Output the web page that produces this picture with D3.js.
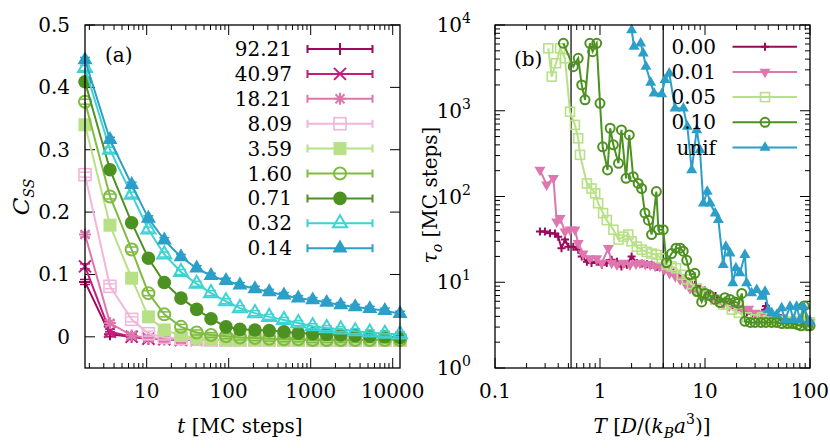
<!DOCTYPE html>
<html>
<head>
<meta charset="utf-8">
<script src="https://cdn.jsdelivr.net/npm/d3@7/dist/d3.min.js"></script>
<style>
  body { margin: 0; background: #fff; }
  svg { display: block; }
</style>
</head>
<body>
<div id="chart"></div>
<script>
// ---------- panel (a): C_SS vs t ----------
const tSteps = [1.77, 3.57, 6.56, 10.5, 16.4, 26.2, 40.7, 60.9, 92.7, 137, 209, 312, 472, 706, 1057, 1567, 2324, 3490, 5250, 8020, 12270];
const cssLabels = ["92.21", "40.97", "18.21", "8.09", "3.59", "1.60", "0.71", "0.32", "0.14"];
const css9221 = [0.088, 0.004, 0.000, -0.003, -0.004, -0.005, -0.005, -0.005, -0.005, -0.005, -0.005, -0.005, -0.005, -0.005, -0.005, -0.005, -0.005, -0.005, -0.005, -0.005, -0.005];
const css4097 = [0.113, 0.008, 0.000, -0.003, -0.004, -0.005, -0.005, -0.005, -0.005, -0.005, -0.005, -0.005, -0.005, -0.005, -0.005, -0.005, -0.005, -0.005, -0.005, -0.005, -0.005];
const css1821 = [0.164, 0.022, 0.002, -0.002, -0.004, -0.005, -0.005, -0.005, -0.005, -0.005, -0.005, -0.005, -0.005, -0.005, -0.005, -0.005, -0.005, -0.005, -0.005, -0.005, -0.005];
const css809 = [0.260, 0.081, 0.028, 0.005, -0.001, -0.003, -0.004, -0.005, -0.005, -0.005, -0.005, -0.005, -0.005, -0.005, -0.005, -0.005, -0.005, -0.005, -0.005, -0.005, -0.005];
const css359 = [0.340, 0.179, 0.094, 0.032, 0.011, 0.002, -0.002, -0.004, -0.005, -0.005, -0.005, -0.005, -0.005, -0.005, -0.005, -0.005, -0.005, -0.005, -0.005, -0.005, -0.005];
const css160 = [0.377, 0.225, 0.140, 0.070, 0.036, 0.016, 0.007, 0.003, 0.001, -0.001, -0.002, -0.003, -0.004, -0.004, -0.005, -0.005, -0.005, -0.005, -0.005, -0.005, -0.005];
const css071 = [0.409, 0.268, 0.183, 0.126, 0.087, 0.062, 0.044, 0.029, 0.016, 0.012, 0.011, 0.010, 0.008, 0.006, 0.005, 0.004, 0.003, 0.002, 0.001, 0.000, -0.001];
const css032 = [0.431, 0.300, 0.228, 0.172, 0.132, 0.104, 0.085, 0.070, 0.057, 0.046, 0.038, 0.032, 0.027, 0.022, 0.017, 0.014, 0.012, 0.009, 0.007, 0.005, 0.004];
const css014 = [0.444, 0.316, 0.244, 0.190, 0.155, 0.128, 0.110, 0.098, 0.090, 0.083, 0.077, 0.072, 0.067, 0.062, 0.059, 0.055, 0.051, 0.048, 0.045, 0.042, 0.037];
const cssErr = 0.004;
const xTicksA = [10, 100, 1000, 10000];
const yTicksA = [0, 0.1, 0.2, 0.3, 0.4, 0.5];
const yTickLabelsA = ["0", "0.1", "0.2", "0.3", "0.4", "0.5"];

// ---------- panel (b): tau_o vs T ----------
const tauLabels = ["0.00", "0.01", "0.05", "0.10", "unif"];
const T000 = [0.268, 0.299, 0.334, 0.373, 0.40, 0.43, 0.464, 0.50, 0.557, 0.62, 0.67, 0.75, 0.83, 0.93, 1.04, 1.16, 1.29, 1.45, 1.6, 1.8, 2.0, 2.24, 2.5, 2.8, 3.1, 3.5, 4.0, 4.5, 5.0, 5.6, 6.3, 7.0, 8.0, 9.0, 10, 11.2, 12.6, 14, 16, 18, 20, 22.4, 25, 28, 32, 35, 38, 42, 47, 53, 60, 67, 75, 84, 94, 100];
const tau000 = [39, 39, 37.2, 37, 34, 25, 31.5, 26, 26, 24, 20, 17.3, 16.8, 17.3, 16.0, 16.8, 18.3, 17.3, 15.3, 16.0, 20, 16.8, 16.5, 16.2, 16.0, 15.2, 14.5, 13.8, 13.0, 12.0, 11.0, 10.2, 9.3, 8.6, 8.0, 7.4, 6.9, 6.3, 5.8, 5.4, 5.0, 4.7, 4.5, 4.3, 4.2, 4.4, 5.3, 4.0, 3.9, 3.8, 3.7, 3.6, 3.6, 3.5, 3.5, 3.4];
const T001 = [0.268, 0.31, 0.36, 0.387, 0.417, 0.464, 0.518, 0.577, 0.62, 0.69, 0.80, 0.93, 1.04, 1.2, 1.29, 1.45, 1.67, 1.93, 2.2, 2.4, 2.7, 3.0, 3.35, 3.7, 4.1, 4.6, 5.2, 5.8, 6.5, 7.2, 8.0, 9.0, 10, 11.5, 13, 15, 17, 20, 23, 26, 30, 34, 38, 43, 50, 60, 70, 80, 90, 100];
const tau001 = [204, 137, 164, 51, 56, 39, 41, 41, 28.6, 21.6, 19.0, 19.0, 16.8, 25, 16.8, 16, 16.8, 16, 16.5, 16.8, 16.2, 16, 15.5, 15.3, 14.0, 12.8, 11.8, 10.8, 9.6, 8.5, 8.0, 7.3, 6.8, 6.4, 6.0, 5.6, 5.3, 5.0, 4.7, 4.9, 4.4, 4.2, 4.3, 4.0, 3.8, 3.6, 3.6, 3.5, 3.5, 3.4];
const T005 = [0.322, 0.347, 0.381, 0.417, 0.464, 0.518, 0.577, 0.62, 0.645, 0.75, 0.83, 0.9, 0.96, 1.07, 1.16, 1.34, 1.5, 1.67, 1.86, 2.0, 2.24, 2.5, 2.78, 3.1, 3.45, 3.86, 4.3, 4.8, 5.3, 6.0, 6.7, 7.5, 8.4, 9.4, 10.5, 12.5, 15, 18, 21, 25, 30, 35, 40, 50, 60, 70, 80, 90, 100];
const tau005 = [5350, 2500, 3580, 5350, 4090, 975, 684, 477, 306, 142, 124, 109, 83.5, 64, 53, 41, 31.5, 34, 36, 30, 26, 24, 22.6, 21.6, 20.9, 19.0, 16, 15.3, 14.6, 12.2, 10.8, 9.5, 8.4, 7.6, 7.0, 6.3, 5.5, 4.8, 4.4, 3.9, 3.7, 3.9, 3.6, 3.5, 3.5, 3.5, 3.5, 3.5, 3.4];
const T010 = [0.448, 0.557, 0.62, 0.67, 0.72, 0.80, 0.85, 0.93, 1.0, 1.06, 1.18, 1.25, 1.34, 1.5, 1.6, 1.77, 1.9, 2.07, 2.31, 2.49, 2.68, 2.89, 3.1, 3.44, 3.6, 4.0, 4.3, 4.8, 5.3, 5.8, 6.2, 6.7, 7.2, 8.0, 8.4, 9.3, 10, 11.1, 12.5, 13.9, 15.5, 17.3, 19.3, 20.8, 22.4, 24, 27, 30, 34, 38, 43, 48, 54, 61, 68, 76, 82, 88, 95, 100];
const tau010 = [6120, 3270, 4090, 2000, 1340, 6120, 4890, 6120, 1220, 380, 204, 625, 400, 244, 597, 163, 523, 170, 142, 124, 64, 53, 36, 114, 41, 41, 17, 21.6, 25, 25, 23, 18, 12.2, 12.7, 7.8, 5.9, 7.4, 7.0, 6.3, 5.8, 6.6, 6.3, 5.9, 5.7, 7.4, 3.5, 3.4, 3.4, 3.4, 3.4, 3.4, 3.4, 3.3, 3.3, 3.3, 3.2, 3.1, 5.3, 3.1, 3.1];
const Tunif = [2.0, 2.11, 2.44, 2.58, 2.74, 3.04, 3.27, 3.87, 4.16, 4.57, 5.18, 6.22, 6.79, 7.47, 8.34, 8.96, 9.64, 10.5, 11.2, 12.5, 13.4, 14.9, 15.8, 17.3, 18.4, 19.7, 21.5, 24.0, 24.9, 27.8, 31.1, 34.7, 37.3, 40.1, 43.2, 48.2, 53.7, 57.8, 64.5, 69.4, 74.6, 80.4, 86.4, 100];
const tauUnif = [8740, 5590, 6120, 4680, 3270, 2130, 1600, 1570, 2290, 2730, 1070, 1070, 653, 204, 597, 349, 83.5, 114, 83.5, 63.8, 53.4, 16.0, 26.1, 21.8, 9.77, 14.6, 12.8, 20.9, 9.77, 7.46, 8.15, 6.82, 7.8, 4.77, 4.36, 4.17, 4.99, 3.65, 5.21, 3.65, 5.21, 3.65, 5.21, 3.48];
const vLinesB = [0.53, 4.0];
const xTicksB = [0.1, 1, 10, 100];
const xTickLabelsB = ["0.1", "1", "10", "100"];
const yTicksB = [1, 10, 100, 1000, 10000];

// ---------- styles ----------
const colA = ["#9c0a5c", "#c51b7d", "#de77ae", "#f1b6da", "#b8e186", "#7fbc41", "#4d9221", "#3dd3d3", "#2b9fc8"];
const mkA = ["plus", "cross", "star", "sqOpen", "sqFill", "circOpen", "circFill", "triOpen", "triFill"];
const colB = ["#9c0a5c", "#de77ae", "#b8e186", "#4d9221", "#2b9fc8"];
const mkB = ["plus", "triDown", "sqOpen", "circOpen", "triFill"];
const FONT = "DejaVu Serif";

const W = 830, H = 448;
const svg = d3.select("#chart").append("svg").attr("width", W).attr("height", H)
  .style("font-family", FONT);

const pA = { x0: 85, x1: 400, y0: 25, y1: 368 };
const pB = { x0: 495, x1: 810, y0: 25, y1: 368 };

const xA = d3.scaleLog().domain([1.77, 12270]).range([pA.x0, pA.x1]);
const yA = d3.scaleLinear().domain([-0.05, 0.5]).range([pA.y1, pA.y0]);
const xB = d3.scaleLog().domain([0.1, 100]).range([pB.x0, pB.x1]);
const yB = d3.scaleLog().domain([1, 1e4]).range([pB.y1, pB.y0]);

// marker drawing, s = half size
function marker(g, type, x, y, s, color) {
  const sw = 2;
  switch (type) {
    case "plus":
      g.append("path").attr("d", `M${x - s},${y}H${x + s}M${x},${y - s}V${y + s}`)
        .attr("stroke", color).attr("stroke-width", sw).attr("fill", "none");
      break;
    case "cross":
      g.append("path").attr("d", `M${x - s},${y - s}L${x + s},${y + s}M${x - s},${y + s}L${x + s},${y - s}`)
        .attr("stroke", color).attr("stroke-width", sw).attr("fill", "none");
      break;
    case "star":
      g.append("path").attr("d", `M${x - s},${y}H${x + s}M${x},${y - s}V${y + s}M${x - s * 0.75},${y - s * 0.75}L${x + s * 0.75},${y + s * 0.75}M${x - s * 0.75},${y + s * 0.75}L${x + s * 0.75},${y - s * 0.75}`)
        .attr("stroke", color).attr("stroke-width", sw).attr("fill", "none");
      break;
    case "sqOpen":
      g.append("rect").attr("x", x - s).attr("y", y - s).attr("width", 2 * s).attr("height", 2 * s)
        .attr("fill", "none").attr("stroke", color).attr("stroke-width", sw * 0.8);
      break;
    case "sqFill":
      g.append("rect").attr("x", x - s).attr("y", y - s).attr("width", 2 * s).attr("height", 2 * s)
        .attr("fill", color);
      break;
    case "circOpen":
      g.append("circle").attr("cx", x).attr("cy", y).attr("r", s)
        .attr("fill", "none").attr("stroke", color).attr("stroke-width", sw);
      break;
    case "circFill":
      g.append("circle").attr("cx", x).attr("cy", y).attr("r", s).attr("fill", color);
      break;
    case "triOpen":
      g.append("path").attr("d", `M${x},${y - 1.15 * s}L${x + s},${y + 0.58 * s}L${x - s},${y + 0.58 * s}Z`)
        .attr("fill", "none").attr("stroke", color).attr("stroke-width", sw);
      break;
    case "triFill":
      g.append("path").attr("d", `M${x},${y - 1.15 * s}L${x + s},${y + 0.58 * s}L${x - s},${y + 0.58 * s}Z`)
        .attr("fill", color);
      break;
    case "triDown":
      g.append("path").attr("d", `M${x},${y + 1.15 * s}L${x + s},${y - 0.58 * s}L${x - s},${y - 0.58 * s}Z`)
        .attr("fill", color);
      break;
  }
}

// frame ticks for a panel (inward, mirrored)
function frame(p, xs, ys, xMajor, yMajor, xLog, yLog) {
  const g = svg.append("g");
  const big = 10, small = 5;
  const tick = (x1, y1, x2, y2) => g.append("line").attr("x1", x1).attr("y1", y1).attr("x2", x2).attr("y2", y2)
    .attr("stroke", "#000").attr("stroke-width", 1);
  xMajor.forEach(v => { const x = xs(v); tick(x, p.y1, x, p.y1 - big); tick(x, p.y0, x, p.y0 + big); });
  yMajor.forEach(v => { const y = ys(v); tick(p.x0, y, p.x0 + big, y); tick(p.x1, y, p.x1 - big, y); });
  if (xLog) xs.ticks().filter(v => !xMajor.includes(v)).forEach(v => {
    const x = xs(v); tick(x, p.y1, x, p.y1 - small); tick(x, p.y0, x, p.y0 + small);
  });
  if (yLog) ys.ticks().filter(v => !yMajor.includes(v)).forEach(v => {
    const y = ys(v); tick(p.x0, y, p.x0 + small, y); tick(p.x1, y, p.x1 - small, y);
  });
  return g;
}

// ---------- panel (a) ----------
const seriesA = [css9221, css4097, css1821, css809, css359, css160, css071, css032, css014];
const mkSizeA = { plus: 6, cross: 6, star: 6, sqOpen: 6, sqFill: 6.5, circOpen: 6, circFill: 6.8, triOpen: 7, triFill: 7.5 };

frame(pA, xA, yA, xTicksA, yTicksA, true, false);

const gA = svg.append("g");
seriesA.forEach((vals, i) => {
  const pts = vals.map((v, j) => [tSteps[j], v]);
  gA.append("path").datum(pts)
    .attr("d", d3.line().x(d => xA(d[0])).y(d => yA(d[1])))
    .attr("fill", "none").attr("stroke", colA[i]).attr("stroke-width", 2);
  const ge = gA.append("g").attr("stroke", colA[i]).attr("stroke-width", 1.5);
  pts.forEach(d => {
    const x = xA(d[0]), yt = yA(d[1] + cssErr), yb = yA(d[1] - cssErr);
    ge.append("line").attr("x1", x - 5).attr("x2", x + 5).attr("y1", yt).attr("y2", yt);
    ge.append("line").attr("x1", x - 5).attr("x2", x + 5).attr("y1", yb).attr("y2", yb);
  });
  pts.forEach(d => marker(gA, mkA[i], xA(d[0]), yA(d[1]), mkSizeA[mkA[i]], colA[i]));
});

// tick labels (a)
const fs = 20;
xTicksA.forEach(v => svg.append("text").attr("x", xA(v)).attr("y", 398).attr("text-anchor", "middle")
  .attr("font-size", fs).text(d3.format("d")(v)));
yTicksA.forEach((v, i) => svg.append("text").attr("x", 70).attr("y", yA(v) + 7).attr("text-anchor", "end")
  .attr("font-size", fs).text(yTickLabelsA[i]));

svg.append("rect").attr("x", pA.x0).attr("y", pA.y0).attr("width", pA.x1 - pA.x0).attr("height", pA.y1 - pA.y0)
  .attr("fill", "none").attr("stroke", "#000").attr("stroke-width", 1.3);

// legend (a)
const legA = svg.append("g");
cssLabels.forEach((lab, i) => {
  const y = 49 + i * 24.9;
  legA.append("text").attr("x", 292).attr("y", y + 7).attr("text-anchor", "end").attr("font-size", fs).text(lab);
  legA.append("path").attr("d", `M307.5,${y}H372.5M307.5,${y - 4}V${y + 4}M372.5,${y - 4}V${y + 4}`)
    .attr("stroke", colA[i]).attr("stroke-width", 2).attr("fill", "none");
  marker(legA, mkA[i], 340, y, mkSizeA[mkA[i]], colA[i]);
});
svg.append("text").attr("x", 105).attr("y", 62).attr("font-size", fs).text("(a)");

// axis titles (a)
const tA = svg.append("text").attr("x", 240).attr("y", 433).attr("text-anchor", "middle").attr("font-size", fs);
tA.append("tspan").attr("font-style", "italic").text("t");
tA.append("tspan").text(" [MC steps]");
const cA = svg.append("text").attr("transform", "translate(29,197) rotate(-90)").attr("text-anchor", "middle").attr("font-size", 23);
cA.append("tspan").attr("font-style", "italic").text("C");
cA.append("tspan").attr("font-style", "italic").attr("font-size", 14).attr("dy", 5).text("SS");

// ---------- panel (b) ----------
frame(pB, xB, yB, xTicksB, yTicksB, true, true);

const gB = svg.append("g");
vLinesB.forEach(v => gB.append("line").attr("x1", xB(v)).attr("x2", xB(v)).attr("y1", pB.y0).attr("y2", pB.y1)
  .attr("stroke", "#000").attr("stroke-width", 1.2));

const seriesB = [[T000, tau000], [T001, tau001], [T005, tau005], [T010, tau010], [Tunif, tauUnif]];
const mkSizeB = { plus: 4, triDown: 5.5, sqOpen: 4.5, circOpen: 4.5, triFill: 5.5 };
seriesB.forEach(([ts, taus], i) => {
  const pts = ts.map((t, j) => [t, taus[j]]);
  gB.append("path").datum(pts)
    .attr("d", d3.line().x(d => xB(d[0])).y(d => yB(d[1])))
    .attr("fill", "none").attr("stroke", colB[i]).attr("stroke-width", 2);
  pts.forEach(d => marker(gB, mkB[i], xB(d[0]), yB(d[1]), mkSizeB[mkB[i]], colB[i]));
});

xTicksB.forEach((v, i) => svg.append("text").attr("x", xB(v)).attr("y", 398).attr("text-anchor", "middle")
  .attr("font-size", fs).text(xTickLabelsB[i]));
yTicksB.forEach(v => {
  const t = svg.append("text").attr("x", 471).attr("y", yB(v) + 7).attr("text-anchor", "end").attr("font-size", fs);
  t.append("tspan").text("10");
  t.append("tspan").attr("font-size", 14).attr("dy", -9).text(Math.round(Math.log10(v)));
});

svg.append("rect").attr("x", pB.x0).attr("y", pB.y0).attr("width", pB.x1 - pB.x0).attr("height", pB.y1 - pB.y0)
  .attr("fill", "none").attr("stroke", "#000").attr("stroke-width", 1.3);

// legend (b)
const legB = svg.append("g");
tauLabels.forEach((lab, i) => {
  const y = 46.7 + i * 25.2;
  legB.append("text").attr("x", 716).attr("y", y + 7).attr("text-anchor", "end").attr("font-size", fs).text(lab);
  legB.append("line").attr("x1", 732.5).attr("x2", 797).attr("y1", y).attr("y2", y)
    .attr("stroke", colB[i]).attr("stroke-width", 2);
  marker(legB, mkB[i], 765, y, mkSizeB[mkB[i]], colB[i]);
});
svg.append("text").attr("x", 514).attr("y", 66).attr("font-size", fs).text("(b)");

// axis titles (b)
const tB = svg.append("text").attr("x", 652).attr("y", 433).attr("text-anchor", "middle").attr("font-size", fs);
tB.append("tspan").attr("font-style", "italic").text("T");
tB.append("tspan").text(" [");
tB.append("tspan").attr("font-style", "italic").text("D");
tB.append("tspan").text("/(");
tB.append("tspan").attr("font-style", "italic").text("k");
tB.append("tspan").attr("font-style", "italic").attr("font-size", 14).attr("dy", 5).text("B");
tB.append("tspan").attr("font-style", "italic").attr("dy", -5).text("a");
tB.append("tspan").attr("font-size", 14).attr("dy", -9).text("3");
tB.append("tspan").attr("dy", 9).text(")]");
const cB = svg.append("text").attr("transform", "translate(437,195) rotate(-90)").attr("text-anchor", "middle").attr("font-size", fs);
cB.append("tspan").attr("font-style", "italic").text("τ");
cB.append("tspan").attr("font-style", "italic").attr("font-size", 14).attr("dy", 5).text("o");
cB.append("tspan").attr("dy", -5).text(" [MC steps]");
</script>
</body>
</html>
